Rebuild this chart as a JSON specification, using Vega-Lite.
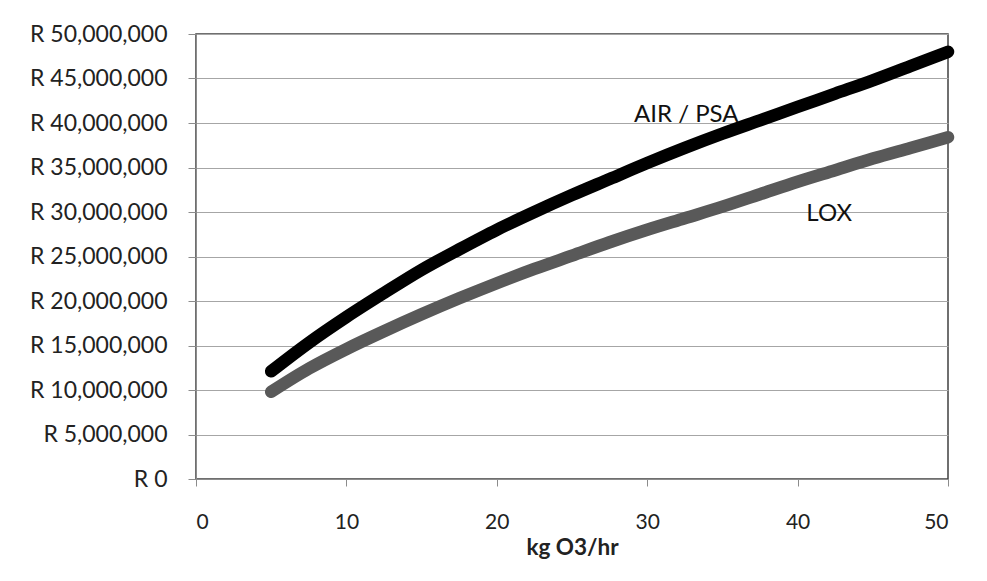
{
  "$schema": "https://vega.github.io/schema/vega-lite/v6.json",
  "width": 752,
  "height": 445,
  "autosize": {"type": "none"},
  "padding": {"left": 196, "top": 34, "right": 39, "bottom": 102},
  "background": "white",
  "config": {
    "view": {"stroke": "#404040", "strokeWidth": 1.5},
    "font": "Lato"
  },
  "datasets": {
    "curves": [
      {"series": "AIR/PSA", "kg": 5, "cost": 12100000},
      {"series": "AIR/PSA", "kg": 7.5, "cost": 15300000},
      {"series": "AIR/PSA", "kg": 10, "cost": 18200000},
      {"series": "AIR/PSA", "kg": 12.5, "cost": 20900000},
      {"series": "AIR/PSA", "kg": 15, "cost": 23500000},
      {"series": "AIR/PSA", "kg": 17.5, "cost": 25800000},
      {"series": "AIR/PSA", "kg": 20, "cost": 28000000},
      {"series": "AIR/PSA", "kg": 22.5, "cost": 30000000},
      {"series": "AIR/PSA", "kg": 25, "cost": 31900000},
      {"series": "AIR/PSA", "kg": 27.5, "cost": 33700000},
      {"series": "AIR/PSA", "kg": 30, "cost": 35500000},
      {"series": "AIR/PSA", "kg": 32.5, "cost": 37200000},
      {"series": "AIR/PSA", "kg": 35, "cost": 38800000},
      {"series": "AIR/PSA", "kg": 37.5, "cost": 40300000},
      {"series": "AIR/PSA", "kg": 40, "cost": 41800000},
      {"series": "AIR/PSA", "kg": 42.5, "cost": 43300000},
      {"series": "AIR/PSA", "kg": 45, "cost": 44800000},
      {"series": "AIR/PSA", "kg": 47.5, "cost": 46400000},
      {"series": "AIR/PSA", "kg": 50, "cost": 48000000},
      {"series": "LOX", "kg": 5, "cost": 9800000},
      {"series": "LOX", "kg": 7.5, "cost": 12400000},
      {"series": "LOX", "kg": 10, "cost": 14600000},
      {"series": "LOX", "kg": 12.5, "cost": 16600000},
      {"series": "LOX", "kg": 15, "cost": 18500000},
      {"series": "LOX", "kg": 17.5, "cost": 20300000},
      {"series": "LOX", "kg": 20, "cost": 22000000},
      {"series": "LOX", "kg": 22.5, "cost": 23600000},
      {"series": "LOX", "kg": 25, "cost": 25100000},
      {"series": "LOX", "kg": 27.5, "cost": 26600000},
      {"series": "LOX", "kg": 30, "cost": 28000000},
      {"series": "LOX", "kg": 32.5, "cost": 29300000},
      {"series": "LOX", "kg": 35, "cost": 30600000},
      {"series": "LOX", "kg": 37.5, "cost": 32000000},
      {"series": "LOX", "kg": 40, "cost": 33400000},
      {"series": "LOX", "kg": 42.5, "cost": 34700000},
      {"series": "LOX", "kg": 45, "cost": 36000000},
      {"series": "LOX", "kg": 47.5, "cost": 37200000},
      {"series": "LOX", "kg": 50, "cost": 38400000}
    ],
    "labels": [
      {"label": "AIR / PSA", "kg": 32.6, "cost": 40950000},
      {"label": "LOX", "kg": 42.1, "cost": 29800000}
    ]
  },
  "layer": [
    {
      "data": {"name": "curves"},
      "mark": {"type": "line", "strokeWidth": 12.5, "strokeCap": "round", "strokeJoin": "round", "interpolate": "monotone"},
      "encoding": {
        "x": {
          "field": "kg", "type": "quantitative",
          "scale": {"domain": [0, 50], "nice": false},
          "axis": {
            "values": [0, 10, 20, 30, 40, 50],
            "grid": false,
            "domainColor": "#8c8c8c",
            "tickColor": "#8c8c8c",
            "tickSize": 7,
            "labelPadding": 25,
            "labelFontSize": 21,
            "labelColor": "#222222",
            "title": "kg O3/hr",
            "titleFontSize": 22.5,
            "titleFontWeight": "bold",
            "titleColor": "#222222",
            "titlePadding": 4
          }
        },
        "y": {
          "field": "cost", "type": "quantitative",
          "scale": {"domain": [0, 50000000], "nice": false},
          "axis": {
            "values": [0, 5000000, 10000000, 15000000, 20000000, 25000000, 30000000, 35000000, 40000000, 45000000, 50000000],
            "labelExpr": "'R ' + format(datum.value, ',')",
            "grid": true,
            "gridColor": "#a6a6a6",
            "domainColor": "#8c8c8c",
            "tickColor": "#8c8c8c",
            "tickSize": 8,
            "labelPadding": 21,
            "labelFontSize": 23,
            "labelColor": "#222222",
            "title": null
          }
        },
        "color": {
          "field": "series", "type": "nominal",
          "scale": {"domain": ["AIR/PSA", "LOX"], "range": ["#000000", "#595959"]},
          "legend": null
        }
      }
    },
    {
      "data": {"name": "labels"},
      "mark": {"type": "text", "fontSize": 24, "color": "#111111"},
      "encoding": {
        "x": {"field": "kg", "type": "quantitative"},
        "y": {"field": "cost", "type": "quantitative"},
        "text": {"field": "label"}
      }
    }
  ]
}
